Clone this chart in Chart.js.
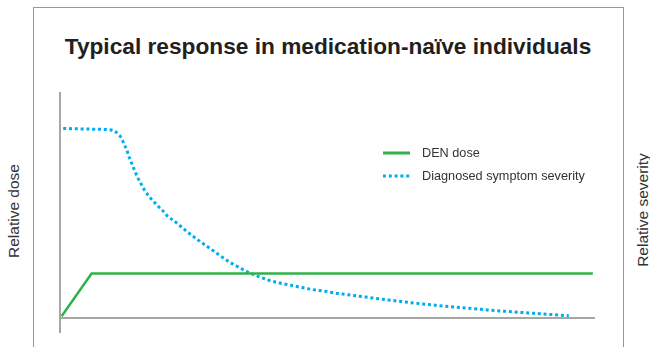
<!DOCTYPE html>
<html>
<head>
<meta charset="utf-8">
<script src="https://cdn.jsdelivr.net/npm/chart.js@4"></script>
<style>
  body { margin: 0; background: #fff; font-family: "Liberation Sans", Arial, sans-serif; }
  #wrap { position: relative; width: 650px; height: 347px; overflow: hidden; }
  #frame { position: absolute; left: 33px; top: 7px; width: 589px; height: 360px; border: 1px solid #9a9a9a; }
  #title { position: absolute; left: 33px; width: 590px; top: 33px; text-align: center; font-weight: bold; font-size: 22.7px; color: #231f20; }
  .ytitle { position: absolute; font-size: 15.5px; color: #333; white-space: nowrap; transform: translate(-50%, -50%) rotate(-90deg); }
  canvas { position: absolute; left: 0; top: 0; }
</style>
</head>
<body>
<div id="wrap">
  <div id="frame"></div>
  <div id="title">Typical response in medication-naïve individuals</div>
  <div class="ytitle" style="left:14px; top:211px;">Relative dose</div>
  <div class="ytitle" style="left:643px; top:210px;">Relative severity</div>
  <canvas id="chart" width="650" height="347"></canvas>
</div>
<script>
// relative units, x: 0-100 along time, y: 0-100
var doseX = [0.3, 5.9, 99.6];
var doseY = [1, 19.9, 19.9];

var severityX = [0.6, 4.9, 9.2, 10.2, 11.0, 11.6, 12.0, 12.5, 12.8, 13.2, 13.6, 14.0, 14.4, 14.9, 15.4, 15.9, 16.6, 17.3, 18.0, 18.7, 19.5, 20.2, 21.1, 23.6, 26.2, 27.9, 29.5, 31.3, 33.2, 35.1, 37.0, 39.1, 41.1, 43.2, 45.2, 47.3, 49.5, 51.6, 53.6, 60.7, 67.9, 79.8, 89.7, 95.1];
var severityY = [84.3, 84.0, 83.7, 83.1, 81.5, 79.5, 77.1, 74.7, 72.4, 70.0, 67.6, 65.3, 63.1, 60.8, 58.6, 56.5, 54.3, 52.4, 50.6, 48.9, 47.1, 45.1, 43.7, 38.8, 34.1, 31.3, 28.6, 25.6, 23.0, 20.6, 18.7, 16.9, 15.7, 14.7, 13.7, 12.8, 12.1, 11.2, 10.6, 8.4, 6.4, 3.8, 2.1, 1.2];

var seriesNames = ["DEN dose", "Diagnosed symptom severity"];
var green = "#2fb24a";
var blue = "#00aeef";

function pts(xs, ys) {
  return xs.map(function (x, i) { return { x: x, y: ys[i] }; });
}

// legend drawn inside the plot, like the original
var legendPlugin = {
  id: "innerLegend",
  afterDraw: function (chart) {
    var ctx = chart.ctx;
    ctx.save();
    ctx.lineWidth = 3;
    ctx.strokeStyle = green;
    ctx.beginPath();
    ctx.moveTo(383, 153);
    ctx.lineTo(410, 153);
    ctx.stroke();
    ctx.fillStyle = blue;
    for (var i = 0; i < 5; i++) {
      ctx.fillRect(383 + i * 5.8, 174.5, 3, 3);
    }
    ctx.fillStyle = "#333";
    ctx.font = "12.7px 'Liberation Sans', Arial, sans-serif";
    ctx.textBaseline = "middle";
    ctx.fillText(seriesNames[0], 422, 153);
    ctx.fillText(seriesNames[1], 422, 176);
    ctx.restore();
  }
};

new Chart(document.getElementById("chart"), {
  type: "line",
  data: {
    datasets: [
      {
        label: seriesNames[0],
        data: pts(doseX, doseY),
        borderColor: green,
        borderWidth: 2.5,
        pointRadius: 0,
        tension: 0
      },
      {
        label: seriesNames[1],
        data: pts(severityX, severityY),
        borderColor: blue,
        borderWidth: 3,
        borderDash: [3, 2.8],
        pointRadius: 0,
        cubicInterpolationMode: "monotone"
      }
    ]
  },
  options: {
    responsive: false,
    animation: false,
    layout: { padding: { left: 60, right: 55, top: 93, bottom: 15 } },
    plugins: {
      legend: { display: false },
      tooltip: { enabled: false }
    },
    scales: {
      x: {
        type: "linear",
        min: 0,
        max: 100,
        ticks: { display: false },
        grid: { display: false },
        border: { display: false },
        afterFit: function (s) { s.height = 0; }
      },
      y: {
        min: -6,
        max: 100,
        ticks: { display: false },
        afterBuildTicks: function (s) { s.ticks = [{ value: 0 }]; },
        grid: { color: "#a6a6a6", lineWidth: 2, drawTicks: false },
        border: { display: true, color: "#a6a6a6", width: 2 },
        afterFit: function (s) { s.width = 0; }
      }
    }
  },
  plugins: [legendPlugin]
});
</script>
</body>
</html>
